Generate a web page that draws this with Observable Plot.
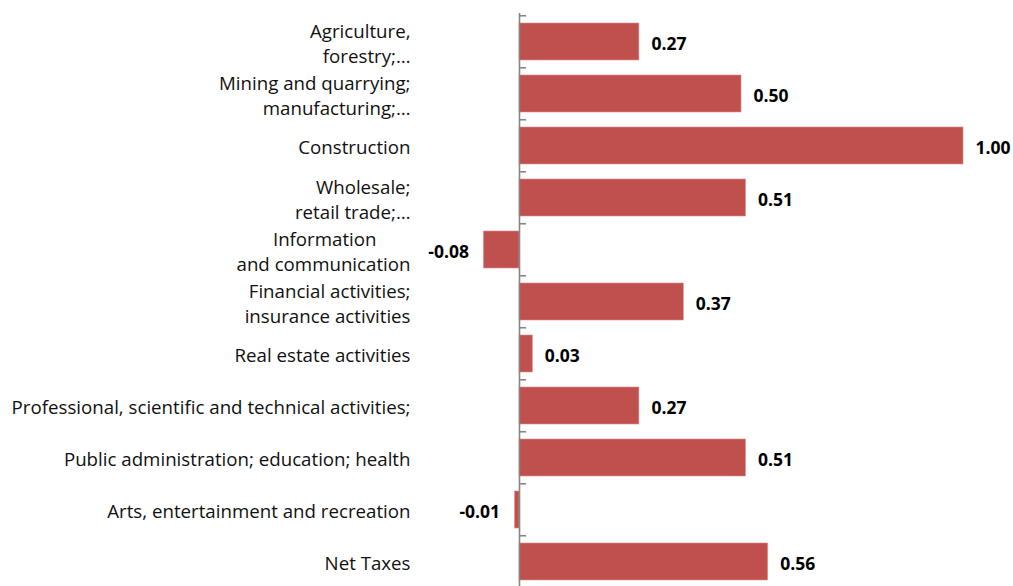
<!DOCTYPE html>
<html>
<head>
<meta charset="utf-8">
<script src="https://cdn.jsdelivr.net/npm/d3@7"></script>
<script src="https://cdn.jsdelivr.net/npm/@observablehq/plot@0.6"></script>
<style>
  html, body { margin: 0; padding: 0; background: #fff; }
  #chart svg { display: block; }
</style>
</head>
<body>
<div id="chart"></div>
<script>
const categories = [
  "Agriculture,\nforestry;…",
  "Mining and quarrying;\nmanufacturing;…",
  "Construction",
  "Wholesale;\nretail trade;…",
  "Information\u00a0\u00a0\u00a0\u00a0\u00a0\u00a0\u00a0\nand communication",
  "Financial activities;\ninsurance activities",
  "Real estate activities",
  "Professional, scientific and technical activities;",
  "Public administration; education; health",
  "Arts, entertainment and recreation",
  "Net Taxes"
];
const values = [0.27, 0.50, 1.00, 0.51, -0.08, 0.37, 0.03, 0.27, 0.51, -0.01, 0.56];

const data = categories.map((c, i) => ({category: c, value: values[i]}));
const fmt = v => v.toFixed(2);

const chart = Plot.plot({
  width: 1013,
  height: 586,
  marginLeft: 415,
  marginRight: 0,
  marginTop: 13,
  marginBottom: 0,
  style: {fontFamily: "'Open Sans', sans-serif", fontSize: "18.7px", color: "#111"},
  x: {domain: [-1.16892, 1.11261], range: [0, 1013], axis: null},
  y: {domain: categories, range: [12.75, 590.25], paddingInner: 0.28, paddingOuter: 0.14, label: null},
  marks: [
    Plot.barX(data, {y: "category", x: "value", fill: "#C0504D", stroke: "#D98C8A", strokeWidth: 0.6}),
    Plot.ruleX([0], {stroke: "#868686", strokeWidth: 1.6}),
    Plot.ruleY(categories, {y: d => d, x1: 0, x2: 0.016, dy: -26.25, stroke: "#868686", strokeWidth: 1.6}),
    Plot.axisY({anchor: "left", tickSize: 0, tickPadding: 5, fontSize: 18.7, lineHeight: 1.34, label: null}),
    Plot.text(data.filter(d => d.value >= 0), {
      y: "category", x: "value", text: d => fmt(d.value),
      textAnchor: "start", dx: 12, dy: 2,
      fontWeight: "bold", fontSize: 17.5, fill: "#000"
    }),
    Plot.text(data.filter(d => d.value < 0), {
      y: "category", x: "value", text: d => fmt(d.value),
      textAnchor: "end", dx: -15, dy: 2,
      fontWeight: "bold", fontSize: 17.5, fill: "#000"
    })
  ]
});

document.getElementById("chart").append(chart);
</script>
</body>
</html>
